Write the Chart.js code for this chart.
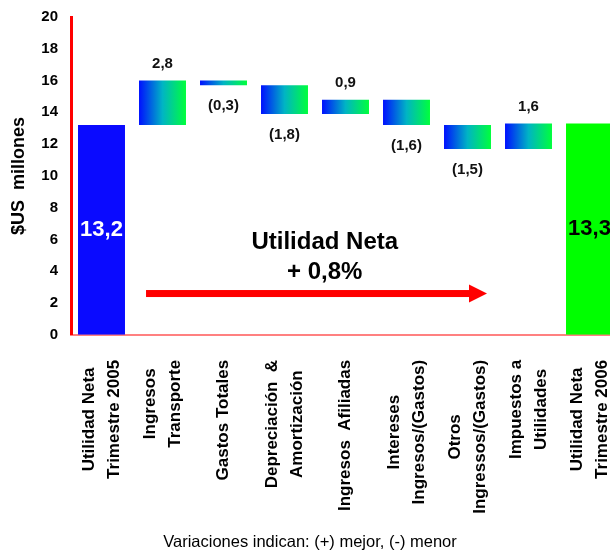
<!DOCTYPE html>
<html>
<head>
<meta charset="utf-8">
<script src="https://cdn.jsdelivr.net/npm/chart.js@4.4.1/dist/chart.umd.min.js"></script>
<style>
	html, body { margin: 0; padding: 0; background: #ffffff; overflow: hidden; }
	#wrap { width: 620px; height: 554px; }
</style>
</head>
<body>
<div id="wrap"><canvas id="chart" width="620" height="554"></canvas></div>
<script>
// Chart data
const categories = [
	['Utilidad Neta', 'Trimestre 2005'],
	['Ingresos', 'Transporte'],
	'Gastos Totales',
	['Depreciación  &', 'Amortización'],
	'Ingresos  Afiliadas',
	['Intereses', 'Ingresos/(Gastos)'],
	['Otros', 'Ingressos/(Gastos)'],
	['Impuestos a', 'Utilidades'],
	['Utilidad Neta', 'Trimestre 2006']
];
const startValue = 13.2;
const changes = [2.8, -0.3, -1.8, 0.9, -1.6, -1.5, 1.6];
const endValue = 13.3;
const yTicks = [0, 2, 4, 6, 8, 10, 12, 14, 16, 18, 20];

const FONT = "'Liberation Sans', Arial, sans-serif";

// Build the floating bars [from, to] for the waterfall
var bars = [[0, startValue]];
var running = startValue;
changes.forEach(function(c) {
	var next = Math.round((running + c) * 10) / 10;
	bars.push([running, next]);
	running = next;
});
bars.push([0, endValue]);

// format a number like 2,8 or (1,8)
function fmt(v) {
	var s = Math.abs(v).toFixed(1).replace('.', ',');
	return v < 0 ? '(' + s + ')' : s;
}

// gradient per bar, blue on the left to green on the right
function barColour(ctx) {
	var i = ctx.dataIndex;
	if (i === 0) return '#0a0aff';
	if (i === bars.length - 1) return '#00ff00';
	var chart = ctx.chart;
	var xs = chart.scales.x;
	if (!xs || !chart.chartArea) return '#00a0c0';
	var cx = xs.getPixelForValue(i);
	var half = xs.width / categories.length * 0.77 / 2;
	var g = chart.ctx.createLinearGradient(cx - half, 0, cx + half, 0);
	g.addColorStop(0, '#0010ff');
	g.addColorStop(0.5, '#00b4c4');
	g.addColorStop(1, '#00ff3c');
	return g;
}

// centre the lines of the two-line category labels on each other
const centerLabelsPlugin = {
	id: 'centerLabels',
	beforeDraw(chart) {
		var xs = chart.scales.x;
		var ctx = chart.ctx;
		var items = xs.getLabelItems(chart.chartArea);
		items.forEach(function(item) {
			if (!Array.isArray(item.label) || item._centred) return;
			ctx.save();
			ctx.font = item.font.string;
			var widest = 0;
			item.label.forEach(function(line) {
				widest = Math.max(widest, ctx.measureText(line).width);
			});
			ctx.restore();
			var lh = item.font.lineHeight;
			item.options.textAlign = 'center';
			item.options.translation[1] += widest / 2;
			item.options.translation[0] -= (item.label.length - 1) * lh / 2;
			item._centred = true;
		});
	}
};

// value labels and the "Utilidad Neta" note with its arrow
const notesPlugin = {
	id: 'notes',
	afterDatasetsDraw(chart) {
		var ctx = chart.ctx;
		var meta = chart.getDatasetMeta(0);
		var xs = chart.scales.x, ys = chart.scales.y;
		ctx.save();
		ctx.textAlign = 'center';
		ctx.textBaseline = 'middle';

		meta.data.forEach(function(bar, i) {
			var top = Math.min(bar.y, bar.base);
			var bottom = Math.max(bar.y, bar.base);
			if (i === 0 || i === meta.data.length - 1) {
				var v = i === 0 ? startValue : endValue;
				ctx.font = 'bold 22px ' + FONT;
				ctx.fillStyle = i === 0 ? '#ffffff' : '#000000';
				ctx.fillText(fmt(v), bar.x, (top + bottom) / 2);
				return;
			}
			var c = changes[i - 1];
			ctx.font = 'bold 15px ' + FONT;
			ctx.fillStyle = '#111111';
			if (c >= 0) ctx.fillText(fmt(c), bar.x, top - 17);
			else ctx.fillText(fmt(c), bar.x, bottom + 21);
		});

		// note text
		ctx.font = 'bold 24px ' + FONT;
		ctx.fillStyle = '#000000';
		var nx = xs.getPixelForValue(3.66);
		ctx.fillText('Utilidad Neta', nx, ys.getPixelForValue(5.85));
		ctx.fillText('+ 0,8%', nx, ys.getPixelForValue(3.9));

		// arrow
		var x0 = xs.getPixelForValue(0.73);
		var x1 = xs.getPixelForValue(6.32);
		var ay = ys.getPixelForValue(2.6);
		ctx.fillStyle = '#ff0000';
		ctx.fillRect(x0, ay - 3.5, x1 - x0 - 16, 7);
		ctx.beginPath();
		ctx.moveTo(x1 - 18, ay - 9);
		ctx.lineTo(x1, ay);
		ctx.lineTo(x1 - 18, ay + 9);
		ctx.closePath();
		ctx.fill();
		ctx.restore();
	}
};

var canvas = document.getElementById('chart');
var myChart = new Chart(canvas, {
	type: 'bar',
	data: {
		labels: categories,
		datasets: [{
			data: bars,
			backgroundColor: barColour,
			borderWidth: 0,
			barPercentage: 0.77,
			categoryPercentage: 1
		}]
	},
	options: {
		responsive: false,
		animation: false,
		layout: { padding: { left: 0, top: 17, right: 0, bottom: 2 } },
		plugins: {
			legend: { display: false },
			tooltip: { enabled: false },
			title: {
				display: true,
				position: 'bottom',
				text: 'Variaciones indican: (+) mejor, (-) menor',
				color: '#000000',
				font: { family: FONT, size: 16.5, weight: 'normal', lineHeight: 1.1 },
				padding: { top: 0, bottom: 0 }
			}
		},
		scales: {
			x: {
				afterFit: function(scale) {
					scale.paddingLeft = 0;
					scale.paddingRight = 0;
					scale.height = 199;
				},
				grid: { display: false },
				border: { color: '#ff8080', width: 2 },
				ticks: {
					color: '#000000',
					autoSkip: false,
					minRotation: 90,
					maxRotation: 90,
					padding: 17,
					font: { family: FONT, weight: 'bold', size: 17, lineHeight: 1.45 }
				}
			},
			y: {
				min: 0,
				max: 20,
				afterBuildTicks: function(scale) {
					scale.ticks = yTicks.map(function(v) { return { value: v }; });
				},
				afterFit: function(scale) {
					scale.paddingTop = 0;
					scale.paddingBottom = 0;
					scale.width = 71;
				},
				grid: { display: false },
				border: { color: '#ff0000', width: 3 },
				ticks: {
					color: '#000000',
					padding: 5,
					font: { family: FONT, weight: 'bold', size: 15 }
				},
				title: {
					display: true,
					text: '$US  millones',
					color: '#000000',
					font: { family: FONT, weight: 'bold', size: 18 },
					padding: { top: 8, bottom: 0 }
				}
			}
		}
	},
	plugins: [centerLabelsPlugin, notesPlugin]
});
</script>
</body>
</html>
